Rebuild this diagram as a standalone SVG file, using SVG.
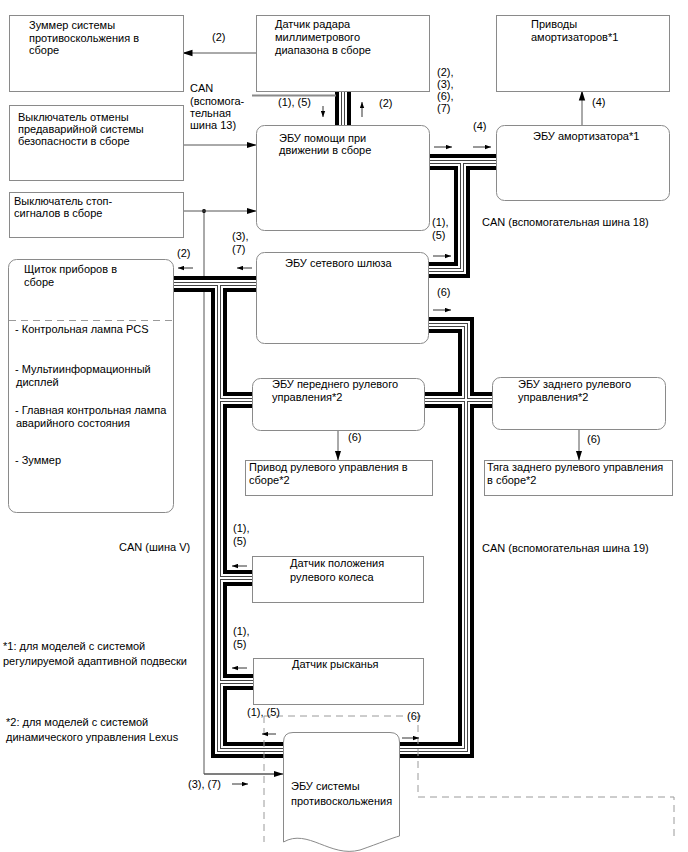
<svg xmlns="http://www.w3.org/2000/svg" width="688" height="852" viewBox="0 0 688 852">
<defs>
<style>
.bx{fill:#fff;stroke:#8a8a8a;stroke-width:1}
.t{font-family:"Liberation Sans",Arial,sans-serif;font-size:11px;fill:#000}
.ln{fill:none;stroke:#555;stroke-width:1}
.ds{fill:none;stroke:#9a9a9a;stroke-width:1;stroke-dasharray:7,5}
.b1{fill:none;stroke:#000;stroke-width:16}
.b2{fill:none;stroke:#fff;stroke-width:8}
.b3{fill:none;stroke:#444;stroke-width:4}
.b4{fill:none;stroke:#fff;stroke-width:2}
.sa{fill:none;stroke:#333;stroke-width:1;marker-end:url(#sh)}
.la{fill:none;stroke:#555;stroke-width:1;marker-end:url(#ah)}
</style>
<marker id="ah" markerWidth="10" markerHeight="8" refX="9.5" refY="4" orient="auto" markerUnits="userSpaceOnUse"><path d="M0,0.8 L10,4 L0,7.2 z" fill="#000"/></marker>
<marker id="sh" markerWidth="6" markerHeight="5" refX="6" refY="2.5" orient="auto" markerUnits="userSpaceOnUse"><path d="M0,0.3 L6,2.5 L0,4.7 z" fill="#000"/></marker>
<path id="bus13" d="M343,91 V125"/>
<path id="bus18" d="M428,162 H497 M462,162 V270 H428"/>
<path id="busV" d="M173,284 H256 M219,284 V750 H466 V325 H428 M219,400 H252 M219,578 H252 M219,682 H253 M425,400 H492"/>
</defs>

<g id="connectors">
  <path class="ln" d="M204,211 V774 H274" />
  <path class="la" d="M204,774 H283" />
  <circle cx="204" cy="211" r="2" fill="#000"/>
  <g id="buses">
    <use href="#bus13" class="b1"/><use href="#bus18" class="b1"/><use href="#busV" class="b1"/>
    <use href="#bus13" class="b2"/><use href="#bus18" class="b2"/><use href="#busV" class="b2"/>
    <use href="#bus13" class="b3"/><use href="#bus18" class="b3"/><use href="#busV" class="b3"/>
    <use href="#bus13" class="b4"/><use href="#bus18" class="b4"/><use href="#busV" class="b4"/>
  </g>
  <path d="M252,95.5 H336" fill="none" stroke="#8a8a8a" stroke-width="2"/>
  <path class="la" d="M256,53 H183"/>
  <path class="la" d="M183,145 H256"/>
  <path class="la" d="M183,211 H256"/>
  <path class="la" d="M582,125 V91"/>
  <path class="la" d="M338,430 V460"/>
  <path class="la" d="M579,429 V460"/>
  <path class="ds" d="M264,716 H404 M421,716 H418 V797 H674 V836"/>
  <path class="ds" d="M264,716 V842"/>
  <path class="sa" d="M323,106 V117"/>
  <path class="sa" d="M362,117 V102"/>
  <path class="sa" d="M434,147 H452"/>
  <path class="sa" d="M473,147 H491"/>
  <path class="sa" d="M433,256 H451"/>
  <path class="sa" d="M433,310 H451"/>
  <path class="sa" d="M193,268 H178"/>
  <path class="sa" d="M252,268 H237"/>
  <path class="sa" d="M247,566 H232"/>
  <path class="sa" d="M247,668 H232"/>
  <path class="sa" d="M276,734 H262"/>
  <path class="sa" d="M402,738 H419"/>
  <path class="sa" d="M232,784 H248"/>
</g>

<g id="buzzer"><rect class="bx" x="9.5" y="15.5" width="174" height="76"/>
<text class="t" x="29" y="29">Зуммер системы</text><text class="t" x="29" y="41.5">противоскольжения в</text><text class="t" x="29" y="54">сборе</text></g>
<g id="radar"><rect class="bx" x="256.5" y="15.5" width="173" height="76"/>
<text class="t" x="275" y="28">Датчик радара</text><text class="t" x="275" y="41">миллиметрового</text><text class="t" x="275" y="54">диапазона в сборе</text></g>
<g id="actuators"><rect class="bx" x="496.5" y="15.5" width="173" height="76"/>
<text class="t" x="531" y="28">Приводы</text><text class="t" x="531" y="41">амортизаторов*1</text></g>
<g id="cancel"><rect class="bx" x="9.5" y="105.5" width="174" height="75"/>
<text class="t" x="18" y="121">Выключатель отмены</text><text class="t" x="18" y="133">предаварийной системы</text><text class="t" x="18" y="145">безопасности в сборе</text></g>
<g id="stop"><rect class="bx" x="9.5" y="192.5" width="174" height="45"/>
<text class="t" x="14" y="205">Выключатель стоп-</text><text class="t" x="14" y="217">сигналов в сборе</text></g>
<g id="drive"><rect class="bx" x="256.5" y="125.5" width="173" height="105" rx="8"/>
<text class="t" x="279" y="142">ЭБУ помощи при</text><text class="t" x="279" y="154">движении в сборе</text></g>
<g id="absorber"><rect class="bx" x="496.5" y="125.5" width="173" height="75" rx="8"/>
<text class="t" x="533" y="140">ЭБУ амортизатора*1</text></g>
<g id="meter"><rect class="bx" x="8.5" y="259.5" width="165" height="253" rx="8"/>
<path d="M9,320.5 H173" fill="none" stroke="#9a9a9a" stroke-width="1" stroke-dasharray="7,5"/>
<text class="t" x="24" y="273">Щиток приборов в</text><text class="t" x="24" y="286">сборе</text>
<text class="t" x="15" y="333">- Контрольная лампа PCS</text>
<text class="t" x="15" y="373">- Мультиинформационный</text><text class="t" x="16" y="386">дисплей</text>
<text class="t" x="15" y="414">- Главная контрольная лампа</text><text class="t" x="16" y="427">аварийного состояния</text>
<text class="t" x="15" y="464">- Зуммер</text></g>
<g id="gateway"><rect class="bx" x="256.5" y="252.5" width="172" height="91" rx="8"/>
<text class="t" x="285" y="267">ЭБУ сетевого шлюза</text></g>
<g id="front-steer"><rect class="bx" x="252.5" y="378.5" width="172" height="52" rx="8"/>
<text class="t" x="272" y="388">ЭБУ переднего рулевого</text><text class="t" x="272" y="401">управления*2</text></g>
<g id="rear-steer"><rect class="bx" x="492.5" y="377.5" width="173" height="52" rx="8"/>
<text class="t" x="518" y="388">ЭБУ заднего рулевого</text><text class="t" x="518" y="401">управления*2</text></g>
<g id="front-act"><rect class="bx" x="245.5" y="460.5" width="187" height="35"/>
<text class="t" x="249" y="471">Привод рулевого управления в</text><text class="t" x="249" y="484">сборе*2</text></g>
<g id="rear-act"><rect class="bx" x="484.5" y="460.5" width="188" height="35"/>
<text class="t" x="487" y="471">Тяга заднего рулевого управления</text><text class="t" x="487" y="484">в сборе*2</text></g>
<g id="angle"><rect class="bx" x="252.5" y="556.5" width="171" height="46"/>
<text class="t" x="290" y="567">Датчик положения</text><text class="t" x="290" y="581">рулевого колеса</text></g>
<g id="yaw"><rect class="bx" x="253.5" y="658.5" width="170" height="46"/>
<text class="t" x="292" y="668">Датчик рысканья</text></g>
<g id="skid"><path class="bx" d="M283.5,742 Q283.5,732.5 293,732.5 H390 Q399.5,732.5 399.5,742 V836 C392,838 380,843 360,850 C330,858 308,828 283.5,842 Z"/>
<text class="t" x="291" y="790">ЭБУ системы</text><text class="t" x="291" y="805">противоскольжения</text></g>

<g id="labels">
<text class="t" x="212" y="41">(2)</text>
<text class="t" x="190" y="92">CAN</text><text class="t" x="190" y="105">(вспомога-</text><text class="t" x="190" y="117">тельная</text><text class="t" x="190" y="129">шина 13)</text>
<text class="t" x="278" y="106">(1), (5)</text>
<text class="t" x="379" y="107">(2)</text>
<text class="t" x="437" y="76">(2),</text><text class="t" x="437" y="88">(3),</text><text class="t" x="437" y="100">(6),</text><text class="t" x="437" y="112">(7)</text>
<text class="t" x="592" y="106">(4)</text>
<text class="t" x="473" y="130">(4)</text>
<text class="t" x="432" y="226">(1),</text><text class="t" x="432" y="239">(5)</text>
<text class="t" x="482" y="226">CAN (вспомогательная шина 18)</text>
<text class="t" x="232" y="240">(3),</text><text class="t" x="232" y="253">(7)</text>
<text class="t" x="177" y="257">(2)</text>
<text class="t" x="437" y="296">(6)</text>
<text class="t" x="348" y="441">(6)</text>
<text class="t" x="587" y="443">(6)</text>
<text class="t" x="119" y="551">CAN (шина V)</text>
<text class="t" x="482" y="552">CAN (вспомогательная шина 19)</text>
<text class="t" x="233" y="532">(1),</text><text class="t" x="233" y="545">(5)</text>
<text class="t" x="233" y="635">(1),</text><text class="t" x="233" y="648">(5)</text>
<text class="t" x="247" y="716">(1), (5)</text>
<text class="t" x="407" y="720">(6)</text>
<text class="t" x="188" y="788">(3), (7)</text>
<text class="t" x="3" y="650">*1: для моделей с системой</text><text class="t" x="3" y="665">регулируемой адаптивной подвески</text>
<text class="t" x="6" y="726">*2: для моделей с системой</text><text class="t" x="6" y="741">динамического управления Lexus</text>
</g>
</svg>
